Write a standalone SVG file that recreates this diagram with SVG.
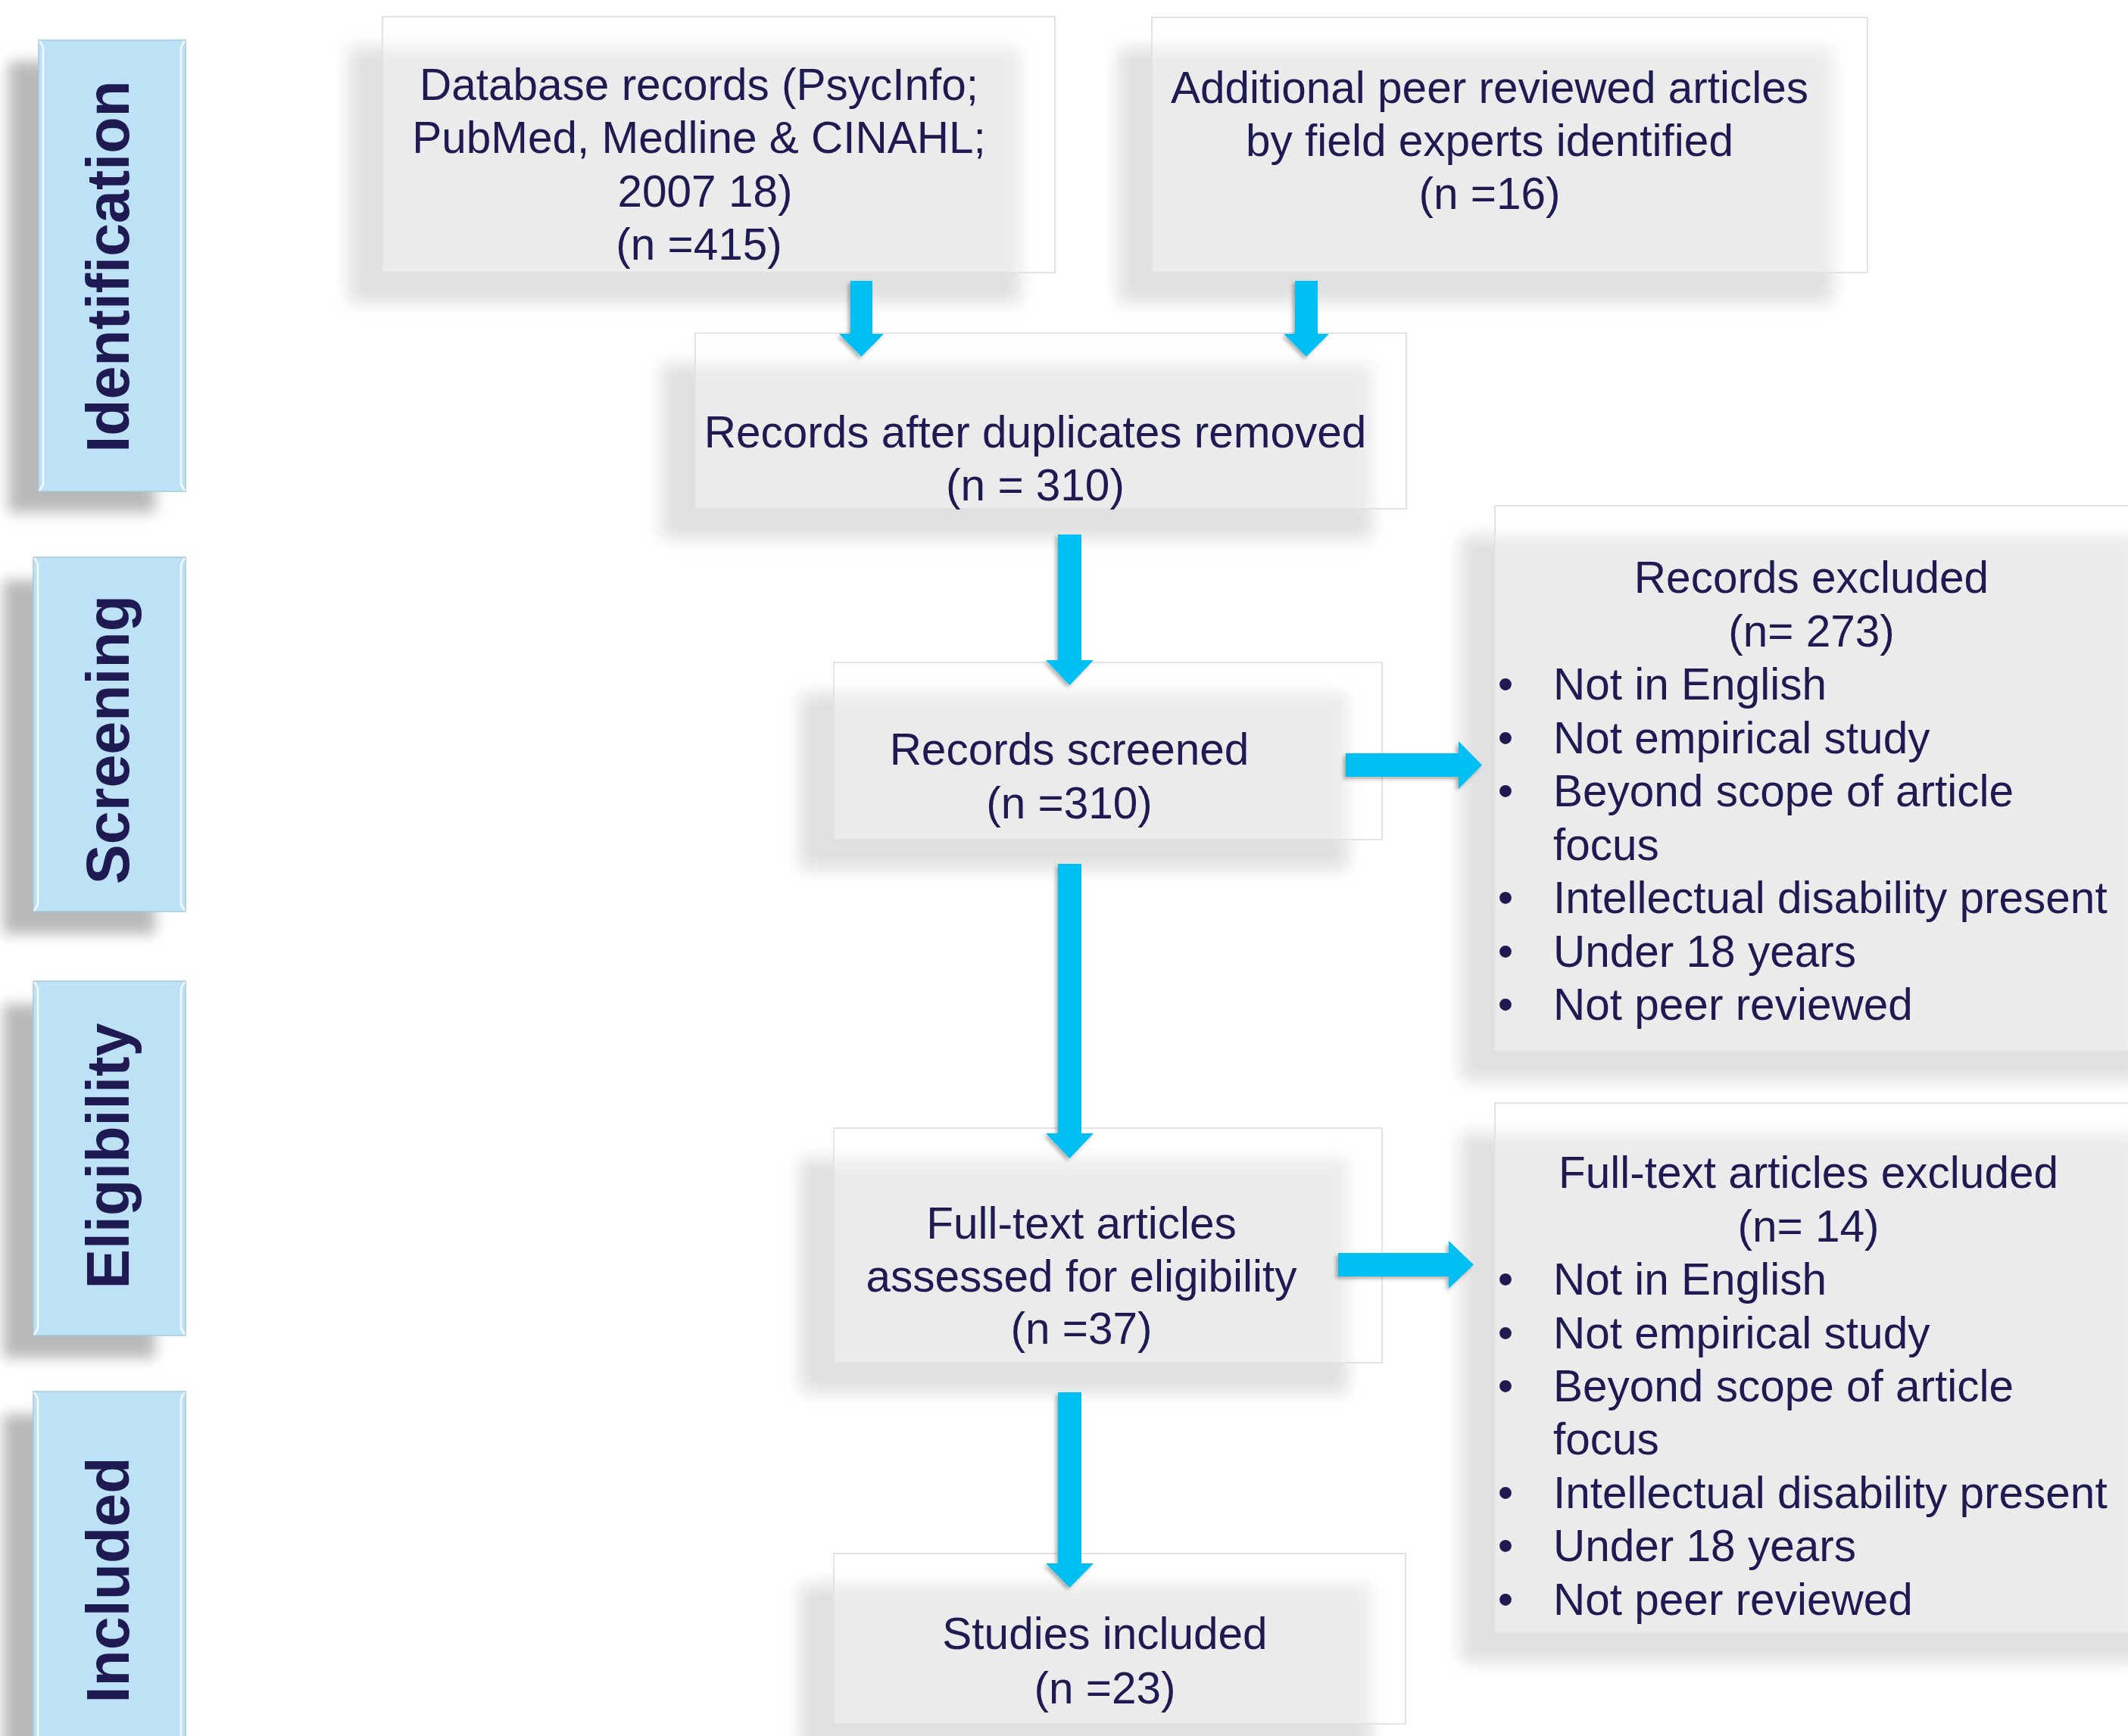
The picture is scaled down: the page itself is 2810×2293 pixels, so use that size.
<svg xmlns="http://www.w3.org/2000/svg" width="2810" height="2293" viewBox="0 0 2810 2293">
<defs>
<filter id="boxShadow" x="-20%" y="-20%" width="140%" height="140%"><feGaussianBlur stdDeviation="11"/></filter>
<filter id="phaseShadow" x="-30%" y="-20%" width="160%" height="140%"><feGaussianBlur stdDeviation="9"/></filter>
<filter id="arrowShadow" x="-30%" y="-30%" width="160%" height="160%"><feDropShadow dx="-3" dy="3" stdDeviation="2.5" flood-color="#000" flood-opacity="0.3"/></filter>
<style>
.shadow{fill:#E0E0E0}
.box{fill:#FFFFFF;fill-opacity:0.36;stroke:#E3E3E3;stroke-width:2}
.pshadow{fill:#B9B9B9}
.phase{fill:#BDE1F5;stroke:#A6C9DE;stroke-width:1.5}
.bevel{fill:none;stroke:#FFFFFF;stroke-opacity:0.85;stroke-width:2.5}
.ptxt{font-family:"Liberation Sans",Arial,sans-serif;font-weight:bold;font-size:79px;fill:#1F1A52;text-anchor:middle}
.t{font-family:"Liberation Sans",Arial,sans-serif;font-size:58.5px;fill:#1F1A52;text-anchor:middle}
.tl{font-family:"Liberation Sans",Arial,sans-serif;font-size:58.5px;fill:#1F1A52}
.arrow{fill:#00BFF2;filter:url(#arrowShadow)}
</style>
</defs>
<rect x="0" y="0" width="2810" height="2293" fill="#FFFFFF"/>

<g id="phase-identification">
<rect class="pshadow" x="11" y="81" width="194" height="596" filter="url(#phaseShadow)"/>
<rect class="phase" x="51" y="53" width="194" height="596"/>
<path class="bevel" d="M52,54 L57,62 L57,640 L52,648 M244,54 L239,62 L239,640 L244,648"/>
<text class="ptxt" transform="translate(170,352) rotate(-90)">Identification</text>
</g>
<g id="phase-screening">
<rect class="pshadow" x="4" y="766" width="201" height="468" filter="url(#phaseShadow)"/>
<rect class="phase" x="44" y="736" width="201" height="468"/>
<path class="bevel" d="M45,737 L50,745 L50,1195 L45,1203 M244,737 L239,745 L239,1195 L244,1203"/>
<text class="ptxt" transform="translate(170,977) rotate(-90)">Screening</text>
</g>
<g id="phase-eligibility">
<rect class="pshadow" x="4" y="1326" width="201" height="468" filter="url(#phaseShadow)"/>
<rect class="phase" x="44" y="1296" width="201" height="468"/>
<path class="bevel" d="M45,1297 L50,1305 L50,1755 L45,1763 M244,1297 L239,1305 L239,1755 L244,1763"/>
<text class="ptxt" transform="translate(170,1527) rotate(-90)">Eligibility</text>
</g>
<g id="phase-included">
<rect class="pshadow" x="4" y="1868" width="201" height="500" filter="url(#phaseShadow)"/>
<rect class="phase" x="44" y="1838" width="201" height="500"/>
<path class="bevel" d="M45,1839 L50,1847 L50,2330 M244,1839 L239,1847 L239,2330"/>
<text class="ptxt" transform="translate(170,2087) rotate(-90)">Included</text>
</g>

<g id="node-database">
<rect class="shadow" x="460" y="62" width="888" height="338" filter="url(#boxShadow)"/>
<rect class="box" x="505" y="22" width="888" height="338"/>
<text class="t" x="923" y="132">Database records (PsycInfo;</text>
<text class="t" x="923" y="202">PubMed, Medline &amp; CINAHL;</text>
<text class="t" x="931" y="272.5">2007 18)</text>
<text class="t" x="923" y="343">(n =415)</text>
</g>
<g id="node-additional">
<rect class="shadow" x="1476" y="63" width="945" height="337" filter="url(#boxShadow)"/>
<rect class="box" x="1521" y="23" width="945" height="337"/>
<text class="t" x="1967" y="136">Additional peer reviewed articles</text>
<text class="t" x="1967" y="206">by field experts identified</text>
<text class="t" x="1967" y="276">(n =16)</text>
</g>
<g id="node-duplicates">
<rect class="shadow" x="873" y="480" width="939" height="232" filter="url(#boxShadow)"/>
<rect class="box" x="918" y="440" width="939" height="232"/>
<text class="t" x="1367" y="591">Records after duplicates removed</text>
<text class="t" x="1367" y="661">(n = 310)</text>
</g>
<g id="node-screened">
<rect class="shadow" x="1056" y="915" width="724" height="234" filter="url(#boxShadow)"/>
<rect class="box" x="1101" y="875" width="724" height="234"/>
<text class="t" x="1412" y="1010">Records screened</text>
<text class="t" x="1412" y="1081">(n =310)</text>
</g>
<g id="node-fulltext">
<rect class="shadow" x="1056" y="1530" width="724" height="310" filter="url(#boxShadow)"/>
<rect class="box" x="1101" y="1490" width="724" height="310"/>
<text class="t" x="1428" y="1636">Full-text articles</text>
<text class="t" x="1428" y="1705.5">assessed for eligibility</text>
<text class="t" x="1428" y="1775">(n =37)</text>
</g>
<g id="node-included">
<rect class="shadow" x="1056" y="2092" width="755" height="225" filter="url(#boxShadow)"/>
<rect class="box" x="1101" y="2052" width="755" height="225"/>
<text class="t" x="1459" y="2178">Studies included</text>
<text class="t" x="1459" y="2250">(n =23)</text>
</g>
<g id="node-records-excluded">
<rect class="shadow" x="1929" y="708" width="900" height="720" filter="url(#boxShadow)"/>
<rect class="box" x="1974" y="668" width="900" height="720"/>
<text class="t" x="2392" y="783">Records excluded</text>
<text class="t" x="2392" y="853.5">(n= 273)</text>
<text class="t" x="1988" y="924">•</text><text class="tl" x="2051" y="924">Not in English</text>
<text class="t" x="1988" y="994.5">•</text><text class="tl" x="2051" y="994.5">Not empirical study</text>
<text class="t" x="1988" y="1065">•</text><text class="tl" x="2051" y="1065">Beyond scope of article</text>
<text class="tl" x="2051" y="1135.5">focus</text>
<text class="t" x="1988" y="1206">•</text><text class="tl" x="2051" y="1206">Intellectual disability present</text>
<text class="t" x="1988" y="1276.5">•</text><text class="tl" x="2051" y="1276.5">Under 18 years</text>
<text class="t" x="1988" y="1347">•</text><text class="tl" x="2051" y="1347">Not peer reviewed</text>
</g>
<g id="node-fulltext-excluded">
<rect class="shadow" x="1929" y="1497" width="900" height="699" filter="url(#boxShadow)"/>
<rect class="box" x="1974" y="1457" width="900" height="699"/>
<text class="t" x="2388" y="1569">Full-text articles excluded</text>
<text class="t" x="2388" y="1639.5">(n= 14)</text>
<text class="t" x="1988" y="1710">•</text><text class="tl" x="2051" y="1710">Not in English</text>
<text class="t" x="1988" y="1780.5">•</text><text class="tl" x="2051" y="1780.5">Not empirical study</text>
<text class="t" x="1988" y="1851">•</text><text class="tl" x="2051" y="1851">Beyond scope of article</text>
<text class="tl" x="2051" y="1921">focus</text>
<text class="t" x="1988" y="1992">•</text><text class="tl" x="2051" y="1992">Intellectual disability present</text>
<text class="t" x="1988" y="2062">•</text><text class="tl" x="2051" y="2062">Under 18 years</text>
<text class="t" x="1988" y="2133">•</text><text class="tl" x="2051" y="2133">Not peer reviewed</text>
</g>

<g id="connectors">
<polygon class="arrow" points="1123,371 1152,371 1152,441 1167,441 1137.5,471 1108,441 1123,441"/>
<polygon class="arrow" points="1710,371 1740,371 1740,441 1755,441 1725,471 1695,441 1710,441"/>
<polygon class="arrow" points="1397,706 1428,706 1428,872 1444,872 1412.5,905 1381,872 1397,872"/>
<polygon class="arrow" points="1397,1141 1428,1141 1428,1497 1444,1497 1412.5,1530 1381,1497 1397,1497"/>
<polygon class="arrow" points="1397,1839 1428,1839 1428,2065 1444,2065 1412.5,2097 1381,2065 1397,2065"/>
<polygon class="arrow" points="1777,995 1926,995 1926,979 1957,1010.5 1926,1042 1926,1026 1777,1026"/>
<polygon class="arrow" points="1767,1655 1913,1655 1913,1639 1946,1670.5 1913,1702 1913,1686 1767,1686"/>
</g>
</svg>
